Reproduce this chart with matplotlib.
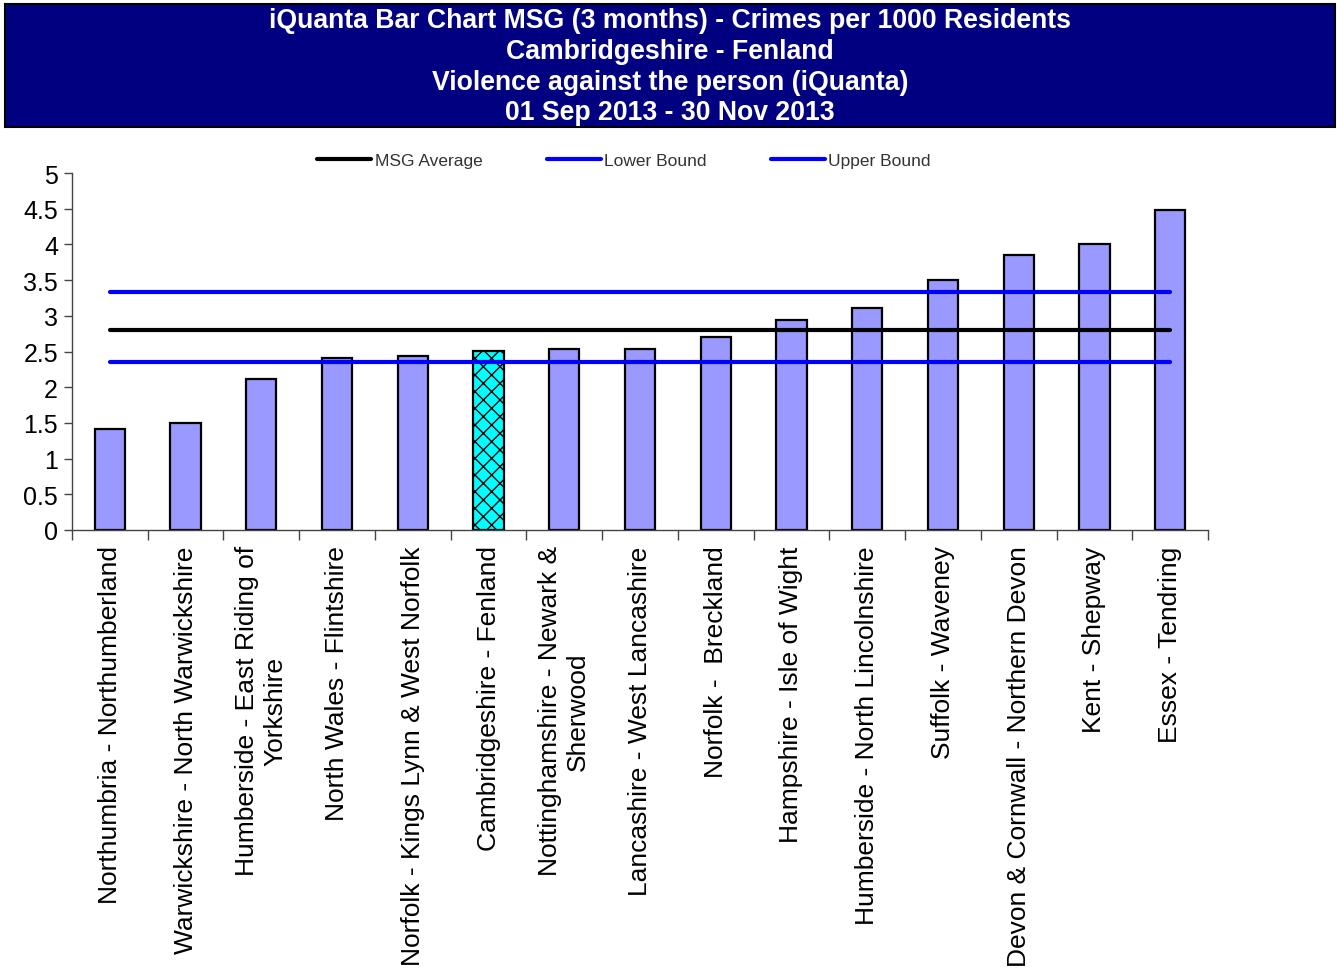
import matplotlib
matplotlib.use("Agg")
import matplotlib.pyplot as plt
from matplotlib.patches import Rectangle
from matplotlib.lines import Line2D

plt.rcParams['font.family'] = ['Liberation Sans', 'DejaVu Sans']
plt.rcParams['hatch.linewidth'] = 1.0

categories = [
    "Northumbria - Northumberland",
    "Warwickshire - North Warwickshire",
    "Humberside - East Riding of\nYorkshire",
    "North Wales - Flintshire",
    "Norfolk - Kings Lynn & West Norfolk",
    "Cambridgeshire - Fenland",
    "Nottinghamshire - Newark &\nSherwood",
    "Lancashire - West Lancashire",
    "Norfolk -  Breckland",
    "Hampshire - Isle of Wight",
    "Humberside - North Lincolnshire",
    "Suffolk - Waveney",
    "Devon & Cornwall - Northern Devon",
    "Kent - Shepway",
    "Essex - Tendring",
]
values = [1.41, 1.50, 2.11, 2.41, 2.44, 2.51, 2.53, 2.53, 2.70, 2.94, 3.11, 3.50, 3.85, 4.01, 4.48]
highlight = "Cambridgeshire - Fenland"
msg_average = 2.80
lower_bound = 2.35
upper_bound = 3.33
y_ticks = [0, 0.5, 1, 1.5, 2, 2.5, 3, 3.5, 4, 4.5, 5]
y_tick_labels = ["0", "0.5", "1", "1.5", "2", "2.5", "3", "3.5", "4", "4.5", "5"]
title_lines = [
    "iQuanta Bar Chart MSG (3 months) - Crimes per 1000 Residents",
    "Cambridgeshire - Fenland",
    "Violence against the person (iQuanta)",
    "01 Sep 2013 - 30 Nov 2013",
]

W, H = 1337, 978
fig = plt.figure(figsize=(W / 100, H / 100), dpi=100)

# Header box
hdr = Rectangle((5 / W, 1 - 128 / H), 1330 / W, 123 / H, transform=fig.transFigure,
                facecolor="#000080", edgecolor="black", linewidth=1.5, zorder=0)
fig.patches.append(hdr)
for t, yc in zip(title_lines, [21, 52, 83, 113]):
    fig.text(670 / W, 1 - yc / H, t, ha="center", va="center", color="white",
             fontsize=19.2, fontweight="bold")

ax = fig.add_axes([72 / W, 1 - 531 / H, 1136 / W, 357 / H])
x = list(range(len(categories)))
colors = ["#00FFFF" if c == highlight else "#9999FF" for c in categories]
bars = ax.bar(x, values, width=0.4, color=colors, edgecolor="black", linewidth=1.6, zorder=2)
for b, c in zip(bars, categories):
    if c == highlight:
        b.set_hatch("xx")

ax.plot([x[0], x[-1]], [msg_average] * 2, color="black", lw=3, solid_capstyle="round", zorder=3)
ax.plot([x[0], x[-1]], [lower_bound] * 2, color="#0000FF", lw=3, solid_capstyle="round", zorder=3)
ax.plot([x[0], x[-1]], [upper_bound] * 2, color="#0000FF", lw=3, solid_capstyle="round", zorder=3)

ax.set_xlim(-0.5, len(categories) - 0.5)
ax.set_ylim(0, 5)
ax.set_yticks(y_ticks)
ax.set_yticklabels(y_tick_labels, fontsize=18)
ax.tick_params(axis="y", direction="out", length=6, width=1, color="#444444", pad=4)

ax.set_xticks([i - 0.5 for i in range(len(categories) + 1)], minor=False)
ax.set_xticklabels([""] * (len(categories) + 1))
ax.set_xticks(x, minor=True)
ax.set_xticklabels(categories, minor=True, rotation=90, fontsize=19, ha="center", va="top",
                   multialignment="center")
ax.tick_params(axis="x", which="major", direction="out", length=7, width=1, color="#444444")
ax.tick_params(axis="x", which="minor", length=0, pad=11)

for s in ["top", "right"]:
    ax.spines[s].set_visible(False)
for s in ["left", "bottom"]:
    ax.spines[s].set_color("#444444")
    ax.spines[s].set_linewidth(1)

handles = [Line2D([], [], color="black", lw=3, solid_capstyle="round"),
           Line2D([], [], color="#0000FF", lw=3, solid_capstyle="round"),
           Line2D([], [], color="#0000FF", lw=3, solid_capstyle="round")]
leg = fig.legend(handles, ["MSG Average", "Lower Bound", "Upper Bound"], loc="center",
                 bbox_to_anchor=(624 / W, 1 - 161 / H), ncol=3, frameon=False,
                 fontsize=12.5, handlelength=3.1, handletextpad=0.2, columnspacing=3.7)
for t in leg.get_texts():
    t.set_color("#333333")

fig.savefig("out.png", dpi=100)
